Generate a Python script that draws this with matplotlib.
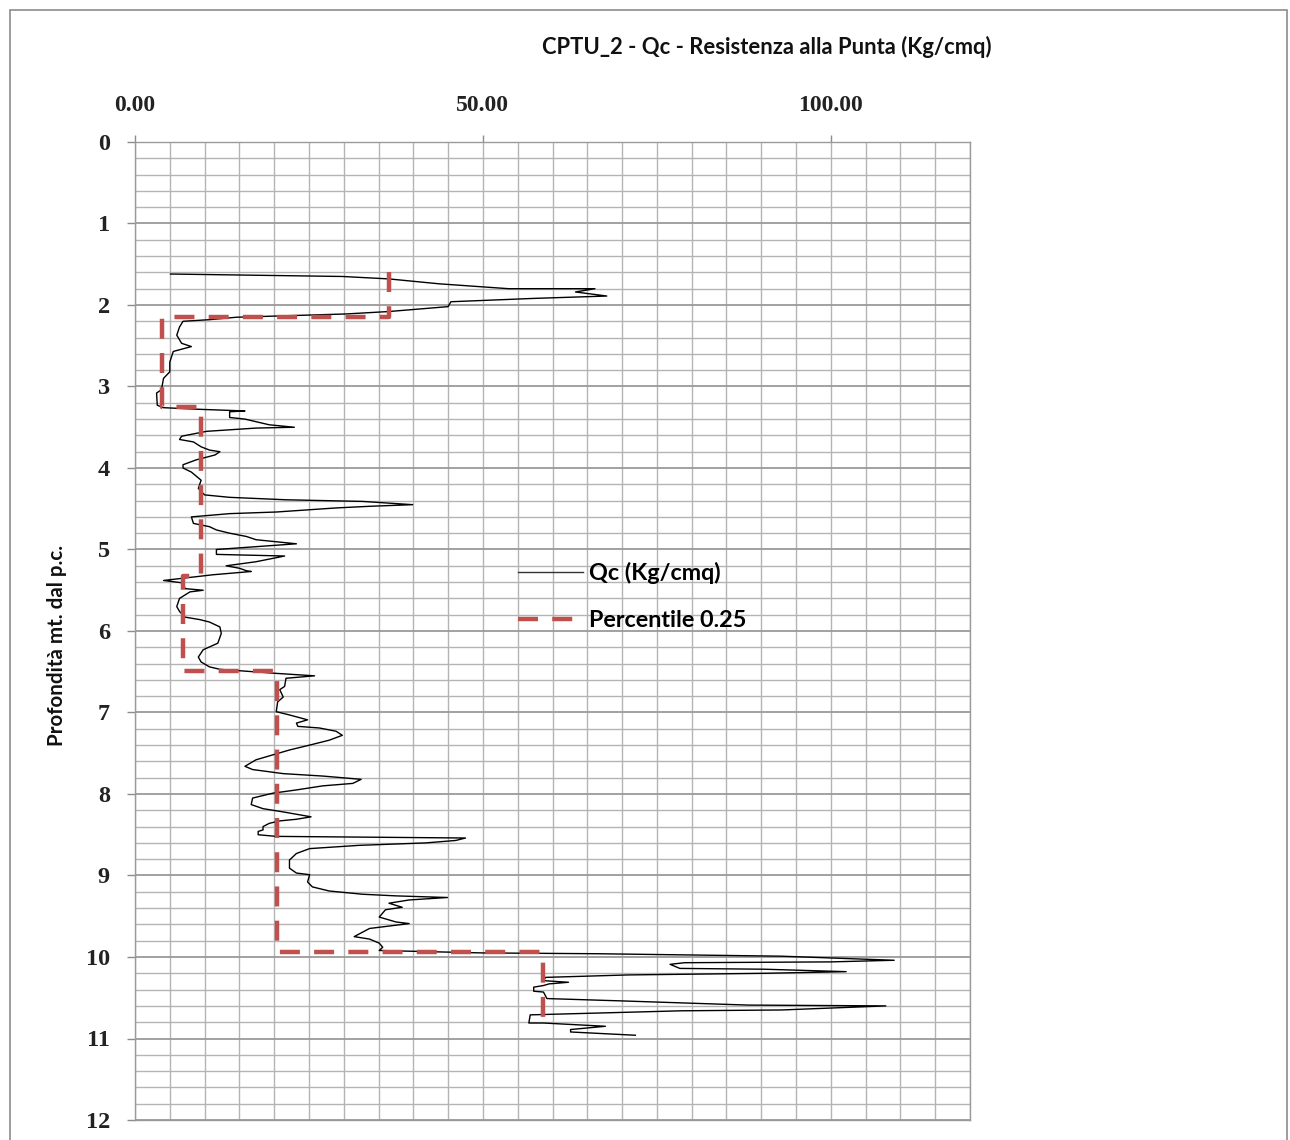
import matplotlib
matplotlib.use("Agg")
import matplotlib.pyplot as plt
import numpy as np
from matplotlib.patches import Rectangle

# ---------------- data ----------------
depth_m = [1.62, 1.65, 1.68, 1.74, 1.80, 1.80, 1.84, 1.89, 1.92, 1.96, 2.02, 2.08, 2.11, 2.15,
           2.18, 2.20, 2.27, 2.37, 2.47, 2.51, 2.57, 2.70, 2.82, 2.90, 3.04, 3.08, 3.23, 3.26,
           3.28, 3.30, 3.31, 3.38, 3.40, 3.47, 3.50, 3.51, 3.55, 3.61, 3.65, 3.68, 3.74, 3.78,
           3.80, 3.84, 3.90, 3.96, 4.00, 4.05, 4.15, 4.25, 4.33, 4.36, 4.39, 4.41, 4.45, 4.47,
           4.49, 4.54, 4.56, 4.60, 4.68, 4.72, 4.76, 4.80, 4.84, 4.88, 4.93, 5.00, 5.06, 5.08,
           5.15, 5.20, 5.23, 5.26, 5.27, 5.31, 5.38, 5.41, 5.48, 5.50, 5.52, 5.60, 5.70, 5.76,
           5.83, 5.86, 5.89, 5.95, 6.03, 6.15, 6.23, 6.32, 6.38, 6.44, 6.47, 6.52, 6.55, 6.58,
           6.68, 6.72, 6.81, 6.87, 6.99, 7.03, 7.09, 7.13, 7.17, 7.19, 7.23, 7.28, 7.34, 7.40,
           7.46, 7.52, 7.58, 7.66, 7.70, 7.75, 7.78, 7.82, 7.87, 7.90, 7.95, 7.99, 8.05, 8.13,
           8.18, 8.22, 8.28, 8.31, 8.33, 8.36, 8.40, 8.44, 8.46, 8.50, 8.52, 8.54, 8.57, 8.60,
           8.63, 8.67, 8.73, 8.81, 8.91, 8.97, 8.99, 9.08, 9.14, 9.19, 9.23, 9.25, 9.27, 9.30,
           9.34, 9.39, 9.42, 9.51, 9.57, 9.59, 9.65, 9.75, 9.78, 9.83, 9.88, 9.92, 9.95, 9.96,
           9.99, 10.04, 10.06, 10.07, 10.09, 10.14, 10.15, 10.18, 10.20, 10.22, 10.25, 10.29,
           10.31, 10.33, 10.35, 10.37, 10.42, 10.43, 10.51, 10.54, 10.59, 10.60, 10.65, 10.66,
           10.69, 10.71, 10.81, 10.81, 10.85, 10.89, 10.92, 10.96]

qc_kg_cmq = [5.1, 29.8, 36.5, 43.7, 53.7, 66.1, 63.3, 67.8, 57.0, 45.4, 45.0, 36.5, 30.3, 14.6,
             10.7, 6.9, 6.4, 6.0, 6.7, 8.1, 5.5, 5.0, 5.0, 4.1, 3.8, 3.1, 3.2, 4.1,
             9.3, 15.8, 13.6, 13.6, 15.8, 19.3, 22.9, 17.4, 10.3, 6.7, 6.4, 8.4, 9.5, 10.7,
             12.2, 11.5, 8.8, 6.9, 6.9, 8.1, 9.5, 9.1, 10.0, 13.6, 21.7, 32.7, 39.9, 33.7,
             28.9, 20.3, 13.6, 8.1, 8.4, 10.7, 11.7, 13.6, 16.0, 17.4, 23.2, 11.7, 11.7, 21.5,
             17.4, 13.1, 15.0, 16.0, 16.7, 11.2, 4.1, 6.9, 7.2, 9.8, 7.9, 6.4, 6.0, 6.4,
             7.2, 9.3, 10.7, 12.2, 12.4, 11.9, 9.8, 9.1, 9.5, 10.7, 12.2, 20.3, 25.8, 21.7,
             21.5, 20.8, 21.3, 20.5, 20.3, 22.2, 24.8, 23.2, 23.4, 26.5, 28.9, 29.8, 27.9, 25.1,
             22.2, 19.8, 17.4, 15.8, 16.9, 21.3, 27.0, 32.5, 31.3, 27.0, 23.2, 19.8, 16.9, 16.7,
             18.4, 21.3, 25.3, 23.2, 20.8, 19.3, 18.4, 18.4, 17.7, 17.7, 20.3, 47.5, 46.1, 41.8,
             32.2, 25.1, 23.2, 22.2, 22.2, 23.2, 25.1, 24.8, 25.5, 27.9, 32.7, 37.5, 44.9, 39.4,
             36.5, 38.4, 36.0, 35.1, 37.5, 39.4, 33.7, 31.5, 33.7, 35.1, 35.6, 35.1, 49.9, 66.6,
             92.9, 109.1, 100.0, 79.0, 76.9, 78.3, 90.5, 102.2, 90.5, 70.9, 59.0, 58.7,
             62.3, 59.5, 58.7, 57.3, 57.3, 58.7, 59.2, 70.4, 88.1, 107.9, 92.9, 78.6,
             65.7, 56.8, 56.6, 58.7, 67.6, 62.6, 62.6, 71.9]

# Percentile 0.25 by layer
layer_top = [1.60, 2.15, 3.25, 5.33, 6.49, 9.94]
layer_bottom = [2.15, 3.25, 5.33, 6.49, 9.94, 10.86]
pct25 = [36.5, 3.9, 9.5, 6.9, 20.4, 58.7]

x_ticks = [0, 50, 100]
y_ticks = list(range(0, 13))

title = "CPTU_2 - Qc - Resistenza alla Punta (Kg/cmq)"
ylabel = "Profondità mt. dal p.c."
legend_labels = ["Qc (Kg/cmq)", "Percentile 0.25"]

# ---------------- figure ----------------
W, H = 1290, 1140
fig = plt.figure(figsize=(W / 100, H / 100), dpi=100)
fig.patch.set_facecolor("white")

# outer chart frame
fig.patches.append(Rectangle((10 / W, -0.05), (1287 - 10) / W, 1 - 10 / H + 0.05,
                             transform=fig.transFigure, fill=False,
                             edgecolor="#8c8c8c", linewidth=1.2))

left, right, top, bottom = 135, 970, 142, 1120
ax = fig.add_axes([left / W, 1 - bottom / H, (right - left) / W, (bottom - top) / H])

ax.set_xlim(0, 120)
ax.set_ylim(12, 0)

# grid
ax.set_xticks(x_ticks)
ax.set_xticks(np.arange(0, 121, 5), minor=True)
ax.set_yticks(y_ticks)
ax.set_yticks(np.arange(0, 12.01, 0.2), minor=True)
ax.grid(which="minor", axis="both", color="#b4b4b4", linewidth=1.0)
ax.grid(which="major", axis="x", color="#b4b4b4", linewidth=1.0)
ax.grid(which="major", axis="y", color="#9a9a9a", linewidth=1.3)
ax.set_axisbelow(True)

for s in ax.spines.values():
    s.set_color("#9a9a9a")
    s.set_linewidth(1.0)

ax.xaxis.tick_top()
ax.set_xticklabels([f"{v:.2f}" for v in x_ticks])
ax.tick_params(axis="x", which="major", direction="out", length=5, width=1,
               color="#8c8c8c", pad=14, labelsize=17)
ax.tick_params(axis="y", which="major", direction="out", length=6, width=1,
               color="#8c8c8c", pad=12, labelsize=17.5)
ax.tick_params(which="minor", length=0)
for lab in ax.get_xticklabels() + ax.get_yticklabels():
    lab.set_fontfamily("Liberation Serif")
    lab.set_fontweight("bold")
    lab.set_color("#222222")

# Qc curve
ln_qc, = ax.plot(qc_kg_cmq, depth_m, color="black", linewidth=1.0, label=legend_labels[0])

# percentile step line
px, py = [], []
for t, b, v in zip(layer_top, layer_bottom, pct25):
    px += [v, v]
    py += [t, b]
ln_p, = ax.plot(px, py, color="#C0504D", linewidth=3.2, dashes=(4.5, 3.2),
                label=legend_labels[1])

# title & y label
fig.text(767 / W, 1 - 47 / H, title, ha="center", va="center",
         fontsize=15.8, fontweight="bold", family="Lato", color="#111111")
fig.text(57 / W, 1 - 645 / H, ylabel, ha="center", va="center", rotation=90,
         fontsize=14.8, fontweight="bold", family="Lato", color="#111111")

leg_qc = plt.Line2D([], [], color="#333333", linewidth=1.0)
leg_p = plt.Line2D([], [], color="#C0504D", linewidth=3.2, dashes=(4.5, 3.2))
fig.legend([leg_qc, leg_p], legend_labels, loc="upper left",
           bbox_to_anchor=(518 / W, 1 - 562 / H), frameon=False,
           prop={"family": "Lato", "weight": "bold", "size": 16.8},
           handlelength=2.8, handletextpad=0.25, labelspacing=1.1,
           borderpad=0, borderaxespad=0)

fig.savefig("out.png", dpi=100, facecolor="white")
